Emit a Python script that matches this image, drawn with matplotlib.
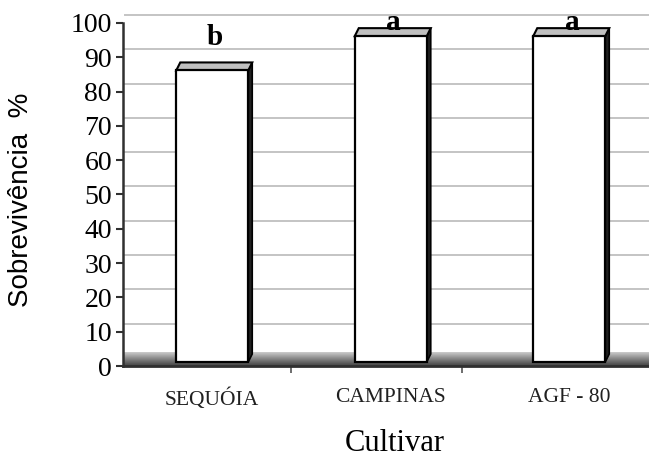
import numpy as np
import matplotlib
matplotlib.use("Agg")
import matplotlib.pyplot as plt
from matplotlib.patches import Polygon, Rectangle
from matplotlib.transforms import offset_copy

# data
cultivars = ["SEQUÓIA", "CAMPINAS", "AGF - 80"]
survival = [85, 95, 95]
letters = ["b", "a", "a"]
yticks = list(range(0, 101, 10))

serif = "Liberation Serif"
sans = "Liberation Sans"

fig = plt.figure(figsize=(6.49, 4.59), dpi=100)
W, H = 649, 459
ax = fig.add_axes([123 / W, 93 / H, 1 - 123 / W, 343 / H])
xmax = -0.5 + 526 / 178.5
ax.set_xlim(-0.5, xmax)
ax.set_ylim(0, 100)

# pixels per data unit (used for the fake 3d depth)
p0 = ax.transData.transform((0, 0))
p1 = ax.transData.transform((1, 1))
sx, sy = p1 - p0

# back wall gridlines, shifted up/right like excel's 3d wall
grid_tr = offset_copy(ax.transData, fig=fig, x=2, y=8, units="dots")
for v in yticks[1:]:
    ax.plot([-0.5, xmax + 0.1], [v, v], color="#c4c4c4", lw=1.4,
            transform=grid_tr, clip_on=False, zorder=1)

# floor with grey gradient
floor_h = 14 / sy
grad = np.linspace(0.84, 0.36, 40) ** 1.3
ax.imshow(grad[::-1].reshape(-1, 1), extent=[-0.5, xmax, 0, floor_h],
          aspect="auto", cmap="gray", vmin=0, vmax=1, zorder=1.5,
          origin="lower")

# bars: white front, grey top, dark side
bar_tr = offset_copy(ax.transData, fig=fig, x=0, y=4, units="dots")
w = 72 / sx
ddx, ddy = 4 / sx, 8 / sy
for i, v in enumerate(survival):
    x0, x1 = i - w / 2, i + w / 2
    side = Polygon([(x1, 0), (x1 + ddx, ddy), (x1 + ddx, v + ddy), (x1, v)],
                   closed=True, facecolor="#202020", edgecolor="black",
                   lw=1.2, transform=bar_tr, zorder=3)
    top = Polygon([(x0, v), (x1, v), (x1 + ddx, v + ddy), (x0 + ddx, v + ddy)],
                  closed=True, facecolor="#c0c0c0", edgecolor="black",
                  lw=1.5, transform=bar_tr, zorder=3)
    front = Rectangle((x0, 0), w, v, facecolor="white", edgecolor="black",
                      lw=1.6, transform=bar_tr, zorder=4)
    ax.add_patch(side)
    ax.add_patch(top)
    ax.add_patch(front)
    # excel keeps the labels inside the plot area
    ax.text(i + 0.015, min(v + 8.6, 98), letters[i], ha="center",
            va="baseline", family=serif, fontweight="bold", fontsize=21,
            clip_on=False, zorder=5)

# axes
for s in ["top", "right"]:
    ax.spines[s].set_visible(False)
ax.spines["left"].set_color("#303030")
ax.spines["left"].set_linewidth(1.8)
ax.spines["bottom"].set_color("#303030")
ax.spines["bottom"].set_linewidth(2)
ax.spines["bottom"].set_zorder(6)

ax.set_yticks(yticks)
ax.set_yticklabels([str(t) for t in yticks], family=serif, fontsize=20)
ax.tick_params(axis="y", direction="out", length=5, width=1.5,
               color="#303030", pad=3)

ax.set_xticks(range(len(cultivars)))
ax.set_xticklabels(cultivars, family=serif, fontsize=15.5, color="#202020")
ax.tick_params(axis="x", which="major", length=0, pad=16)
# front-edge category dividers sit a bit left of the bar midpoints (perspective)
ax.set_xticks([0.44, 1.4], minor=True)
ax.tick_params(axis="x", which="minor", direction="out", length=5,
               width=1.2, color="#555555")

fig.text(21 / W, 1 - 200 / H, "Sobrevivência  %", rotation=90,
         ha="center", va="center", family=sans, fontsize=20)
fig.text(395 / W, 1 / H, "Cultivar", ha="center", va="bottom",
         family=serif, fontsize=22)

fig.savefig("out.png", dpi=100)
